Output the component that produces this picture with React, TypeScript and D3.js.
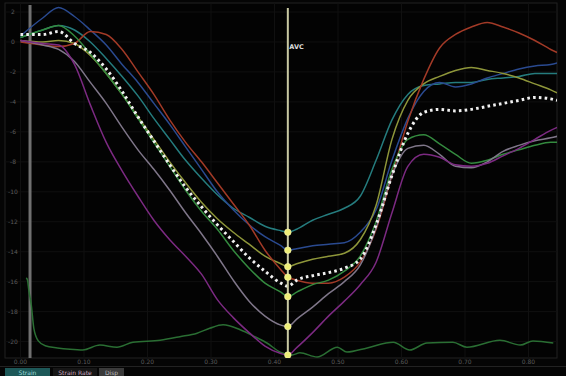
import React from "react";
import * as d3 from "d3";

// Time base shared by all segment strain traces (seconds); 0.421 s is aortic valve closure
const times = [
  0.0, 0.035, 0.06, 0.085, 0.11, 0.135, 0.16, 0.185, 0.21, 0.235, 0.26, 0.285,
  0.31, 0.335, 0.36, 0.385, 0.41, 0.421, 0.435, 0.46, 0.485, 0.51, 0.535, 0.56,
  0.585, 0.61, 0.635, 0.66, 0.685, 0.71, 0.735, 0.76, 0.785, 0.81, 0.835, 0.845,
];
const avcTime = 0.421;
const qrsOnset = 0.015;

// Longitudinal strain (%) per segment
const redSeg = [0, -0.2, -0.3, -0.1, 0.7, 0.5, -0.5, -2.0, -3.5, -5.2, -6.7, -8.0, -9.4, -10.8, -12.2, -13.9, -15.2, -15.7, -15.9, -16.1, -16.1, -15.7, -14.7, -12.5, -8.9, -5.3, -2.5, -0.4, 0.5, 1.0, 1.3, 1.0, 0.6, 0.1, -0.5, -0.7];
const blueSeg = [0.4, 1.6, 2.3, 1.7, 0.8, -0.2, -1.5, -2.7, -4.1, -5.5, -7.0, -8.5, -10.0, -11.2, -12.2, -13.0, -13.6, -13.9, -13.8, -13.6, -13.5, -13.4, -12.7, -11.2, -7.9, -5.1, -3.3, -2.7, -3.0, -2.8, -2.4, -2.1, -1.8, -1.6, -1.5, -1.4];
const tealSeg = [0.3, 0.8, 1.1, 0.8, 0.0, -1.1, -2.3, -3.6, -5.1, -6.5, -7.9, -9.1, -10.2, -11.1, -11.7, -12.3, -12.6, -12.7, -12.5, -11.9, -11.5, -11.1, -10.3, -7.9, -5.2, -3.5, -2.9, -2.8, -2.7, -2.7, -2.5, -2.4, -2.3, -2.1, -2.1, -2.1];
const oliveSeg = [0.1, 0.0, 0.1, -0.1, -0.9, -2.1, -3.5, -5.0, -6.5, -8.0, -9.4, -10.7, -11.8, -12.7, -13.5, -14.3, -14.8, -15.0, -14.8, -14.5, -14.3, -14.1, -13.2, -10.9, -6.5, -3.9, -2.8, -2.3, -1.9, -1.7, -1.9, -2.1, -2.4, -2.8, -3.2, -3.4];
const greenSeg = [0.3, 0.8, 1.1, 0.4, -0.8, -2.1, -3.5, -5.1, -6.7, -8.3, -9.9, -11.3, -12.5, -13.9, -15.1, -16.1, -16.7, -17.0, -16.7, -16.2, -15.9, -15.3, -14.3, -12.0, -8.5, -6.5, -6.2, -6.8, -7.5, -8.1, -7.9, -7.5, -7.2, -6.9, -6.7, -6.7];
const graySeg = [0.1, -0.2, -0.5, -1.3, -2.7, -4.1, -5.7, -7.2, -8.5, -9.9, -11.4, -12.8, -14.3, -15.9, -17.3, -18.3, -18.9, -19.0, -18.5, -17.7, -16.8, -16.0, -14.9, -12.4, -8.9, -7.1, -6.9, -7.5, -8.3, -8.4, -8.0, -7.3, -6.9, -6.6, -6.4, -6.3];
const purpleSeg = [0.1, -0.1, -0.2, -1.5, -4.2, -6.7, -8.6, -10.3, -11.9, -13.2, -14.3, -15.5, -17.2, -18.4, -19.4, -20.3, -20.8, -20.9, -20.4, -19.4, -18.3, -17.3, -16.2, -14.7, -11.4, -8.3, -7.5, -7.7, -8.2, -8.3, -8.1, -7.6, -7.1, -6.5, -5.9, -5.7];
// Global average strain
const averageStrain = [0.5, 0.5, 0.7, -0.1, -0.7, -1.8, -3.3, -5.0, -6.6, -8.2, -9.7, -11.0, -12.2, -13.3, -14.4, -15.3, -16.1, -16.3, -15.9, -15.6, -15.4, -15.1, -14.5, -12.2, -8.9, -6.1, -4.7, -4.5, -4.6, -4.5, -4.3, -4.1, -3.9, -3.7, -3.8, -3.9];

// ECG trace (mV, own scale)
const ecgTimes = [0.009, 0.011, 0.013, 0.017, 0.021, 0.028, 0.039, 0.058, 0.078, 0.098, 0.125, 0.152, 0.177, 0.22, 0.251, 0.278, 0.298, 0.319, 0.346, 0.369, 0.388, 0.409, 0.428, 0.44, 0.467, 0.499, 0.514, 0.546, 0.587, 0.613, 0.64, 0.681, 0.703, 0.755, 0.787, 0.807, 0.839];
const ecgValues = [1.03, 1.0, 0.86, 0.64, 0.31, 0.13, 0.06, 0.03, 0.01, 0.0, 0.07, 0.04, 0.11, 0.14, 0.19, 0.24, 0.31, 0.36, 0.29, 0.19, 0.1, -0.03, -0.07, -0.04, -0.1, 0.04, -0.03, 0.03, 0.11, 0.0, 0.1, 0.11, 0.04, 0.14, 0.07, 0.13, 0.1];

const xTicks = [0, 0.1, 0.2, 0.3, 0.4, 0.5, 0.6, 0.7, 0.8];
const yTicks = [2, 0, -2, -4, -6, -8, -10, -12, -14, -16, -18, -20];
const tabLabels = ["Strain", "Strain Rate", "Disp"];

const segments = [
  { name: "basal septal", values: tealSeg, color: "#257c7e" },
  { name: "basal lateral", values: blueSeg, color: "#2a4a90" },
  { name: "mid lateral", values: oliveSeg, color: "#8e963a" },
  { name: "apical lateral", values: redSeg, color: "#a23a27" },
  { name: "mid septal", values: greenSeg, color: "#348a3f" },
  { name: "apical septal", values: graySeg, color: "#7f7689" },
  { name: "apex", values: purpleSeg, color: "#7c2a82" },
];

const W = 566;
const H = 376;
const plot = { left: 5, right: 557, top: 3, bottom: 358 };

export default function App() {
  const x = d3.scaleLinear().domain([0, 0.8]).range([20.5, 528.5]);
  const y = d3.scaleLinear().domain([2, -20]).range([12, 341.6]);
  const ecgY = d3.scaleLinear().domain([0, 1]).range([350, 280]);

  const line = d3
    .line<number>()
    .x((_, i) => x(times[i]))
    .y((d) => y(d))
    .curve(d3.curveMonotoneX);

  const ecgLine = d3
    .line<number>()
    .x((_, i) => x(ecgTimes[i]))
    .y((d) => ecgY(d))
    .curve(d3.curveMonotoneX);

  const avcIndex = times.indexOf(avcTime);
  const avcX = x(avcTime);
  const startX = x(qrsOnset);

  return (
    <svg
      width={W}
      height={H}
      style={{ position: "absolute", left: 0, top: 0, background: "#050505" }}
      fontFamily="DejaVu Sans, sans-serif"
    >
      <defs>
        <clipPath id="plotClip">
          <rect x={plot.left} y={plot.top} width={plot.right - plot.left} height={plot.bottom - plot.top} />
        </clipPath>
      </defs>
      <rect x={0} y={0} width={W} height={H} fill="#050505" />
      <rect
        x={plot.left}
        y={plot.top}
        width={plot.right - plot.left}
        height={plot.bottom - plot.top}
        fill="#030303"
        stroke="#222"
        strokeWidth={1}
      />

      {/* grid */}
      <g stroke="#101010" strokeWidth={1}>
        {xTicks.map((t) => (
          <line key={"gx" + t} x1={x(t)} x2={x(t)} y1={plot.top} y2={plot.bottom} />
        ))}
        {yTicks.map((v) => (
          <line key={"gy" + v} x1={plot.left} x2={plot.right} y1={y(v)} y2={y(v)} />
        ))}
      </g>

      {/* axis labels */}
      <g fill="#5a5a5a" fontSize={6}>
        {yTicks.map((v) => (
          <text key={"ly" + v} x={13} y={y(v) + 2} textAnchor="middle">
            {v}
          </text>
        ))}
        {xTicks.map((t) => (
          <text key={"lx" + t} x={x(t)} y={364} textAnchor="middle">
            {t.toFixed(2)}
          </text>
        ))}
      </g>
      <line x1={0} x2={W} y1={366.5} y2={366.5} stroke="#222" />

      <g clipPath="url(#plotClip)">
        {/* QRS onset marker */}
        <line x1={startX} x2={startX} y1={plot.top + 2} y2={plot.bottom} stroke="#707070" strokeWidth={3} />

        {/* ECG */}
        <path d={ecgLine(ecgValues) ?? ""} fill="none" stroke="#2a6e33" strokeWidth={1.5} />

        {/* segment curves */}
        {segments.map((s) => (
          <path key={s.name} d={line(s.values) ?? ""} fill="none" stroke={s.color} strokeWidth={1.5} />
        ))}

        {/* global average */}
        <path
          d={line(averageStrain) ?? ""}
          fill="none"
          stroke="#f0f0f0"
          strokeWidth={3}
          strokeDasharray="2.6 3.2"
        />

        {/* AVC marker */}
        <line x1={avcX} x2={avcX} y1={8} y2={plot.bottom} stroke="#c8c8a2" strokeWidth={2} />
        <text x={avcX + 1.5} y={49} fill="#dcdcdc" fontSize={6.5} fontWeight="bold">
          AVC
        </text>
        {segments.map((s) => (
          <circle
            key={"dot" + s.name}
            cx={avcX}
            cy={y(s.values[avcIndex])}
            r={3.3}
            fill="#eeee78"
            stroke="#f8f8b0"
            strokeWidth={0.6}
          />
        ))}
      </g>

      {/* tabs */}
      <g fontSize={6}>
        <rect x={5} y={368} width={45} height={10} fill="#1d5858" />
        <text x={27.5} y={375} textAnchor="middle" fill="#9fdada">
          {tabLabels[0]}
        </text>
        <rect x={53} y={368} width={44} height={10} fill="#161616" />
        <text x={75} y={375} textAnchor="middle" fill="#c9a5bd">
          {tabLabels[1]}
        </text>
        <rect x={99} y={368} width={25} height={10} fill="#3a3a3a" />
        <text x={111.5} y={375} textAnchor="middle" fill="#bbbbbb">
          {tabLabels[2]}
        </text>
      </g>
    </svg>
  );
}
